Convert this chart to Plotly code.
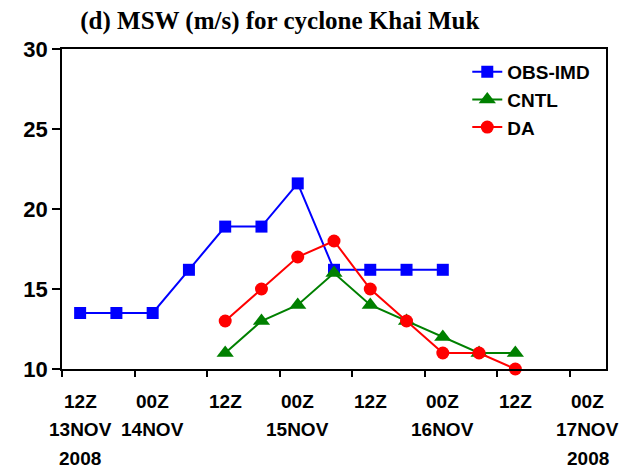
import plotly.graph_objects as go

# Six-hourly valid times (UTC)
times = [
    "2008-11-13 12:00", "2008-11-13 18:00", "2008-11-14 00:00", "2008-11-14 06:00",
    "2008-11-14 12:00", "2008-11-14 18:00", "2008-11-15 00:00", "2008-11-15 06:00",
    "2008-11-15 12:00", "2008-11-15 18:00", "2008-11-16 00:00", "2008-11-16 06:00",
    "2008-11-16 12:00",
]

# Maximum sustained wind (m/s)
obs_imd = [13.5, 13.5, 13.5, 16.2, 18.9, 18.9, 21.6, 16.2, 16.2, 16.2, 16.2]
cntl = [11, 13, 14, 16, 14, 13, 12, 11, 11]
da = [13, 15, 17, 18, 15, 13, 11, 11, 10]

obs_times = times[0:11]
model_times = times[4:13]

# Axis labels every 12 h
label_times = ["2008-11-13 12:00", "2008-11-14 00:00", "2008-11-14 12:00", "2008-11-15 00:00",
               "2008-11-15 12:00", "2008-11-16 00:00", "2008-11-16 12:00", "2008-11-17 00:00"]
hour_labels = ["12Z", "00Z", "12Z", "00Z", "12Z", "00Z", "12Z", "00Z"]
date_labels = ["13NOV", "14NOV", "", "15NOV", "", "16NOV", "", "17NOV"]
year_labels = ["2008", "", "", "", "", "", "", "2008"]

y_ticks = [10, 15, 20, 25, 30]

font_sans = "Liberation Sans, Arial, sans-serif"

fig = go.Figure()
fig.add_trace(go.Scatter(
    x=obs_times, y=obs_imd, name="<b>OBS-IMD</b>", mode="lines+markers",
    line=dict(color="#0000ff", width=2),
    marker=dict(symbol="square", size=12, color="#0000ff"),
    cliponaxis=False,
))
fig.add_trace(go.Scatter(
    x=model_times, y=cntl, name="<b>CNTL</b>", mode="lines+markers",
    line=dict(color="#008000", width=2),
    marker=dict(symbol="triangle-up", size=15, color="#008000"),
    cliponaxis=False,
))
fig.add_trace(go.Scatter(
    x=model_times, y=da, name="<b>DA</b>", mode="lines+markers",
    line=dict(color="#ff0000", width=2),
    marker=dict(symbol="circle", size=13, color="#ff0000"),
    cliponaxis=False,
))

# Three-line time labels under the x axis
label_rows = [(hour_labels, -0.103), (date_labels, -0.19), (year_labels, -0.281)]
for labels, ypos in label_rows:
    for t, txt in zip(label_times, labels):
        if txt:
            fig.add_annotation(
                x=t, y=ypos, xref="x", yref="paper", text=f"<b>{txt}</b>", showarrow=False,
                xanchor="center", yanchor="middle",
                font=dict(family=font_sans, size=19, color="black"),
            )

fig.update_layout(
    width=633, height=474,
    margin=dict(l=62, r=27, t=49, b=105),
    paper_bgcolor="white", plot_bgcolor="white",
    title=dict(
        text="<b>(d) MSW (m/s) for cyclone Khai Muk</b>",
        x=0.442, xanchor="center", y=0.957, yanchor="middle",
        font=dict(family="Liberation Serif, Times New Roman, serif", size=25, color="black"),
    ),
    showlegend=True,
    legend=dict(
        x=0.745, y=0.988, xanchor="left", yanchor="top",
        bgcolor="rgba(255,255,255,0)", borderwidth=0,
        font=dict(family=font_sans, size=19, color="black"),
    ),
    xaxis=dict(
        type="date",
        range=["2008-11-13 09:00", "2008-11-17 03:00"],
        tick0="2008-11-13 09:00", dtick=12 * 3600 * 1000,
        showticklabels=False, ticks="outside", ticklen=6, tickwidth=1.5, tickcolor="black",
        showline=True, linecolor="black", linewidth=1.5, mirror=True,
        showgrid=False, zeroline=False,
    ),
    yaxis=dict(
        range=[10, 30], tickvals=y_ticks,
        ticktext=[f"<b>{v}</b>" for v in y_ticks],
        ticks="outside", ticklen=8, tickwidth=1.5, tickcolor="black",
        tickfont=dict(family=font_sans, size=22, color="black"),
        showline=True, linecolor="black", linewidth=1.5, mirror=True,
        showgrid=False, zeroline=False,
    ),
)

fig.write_html("out.html")
